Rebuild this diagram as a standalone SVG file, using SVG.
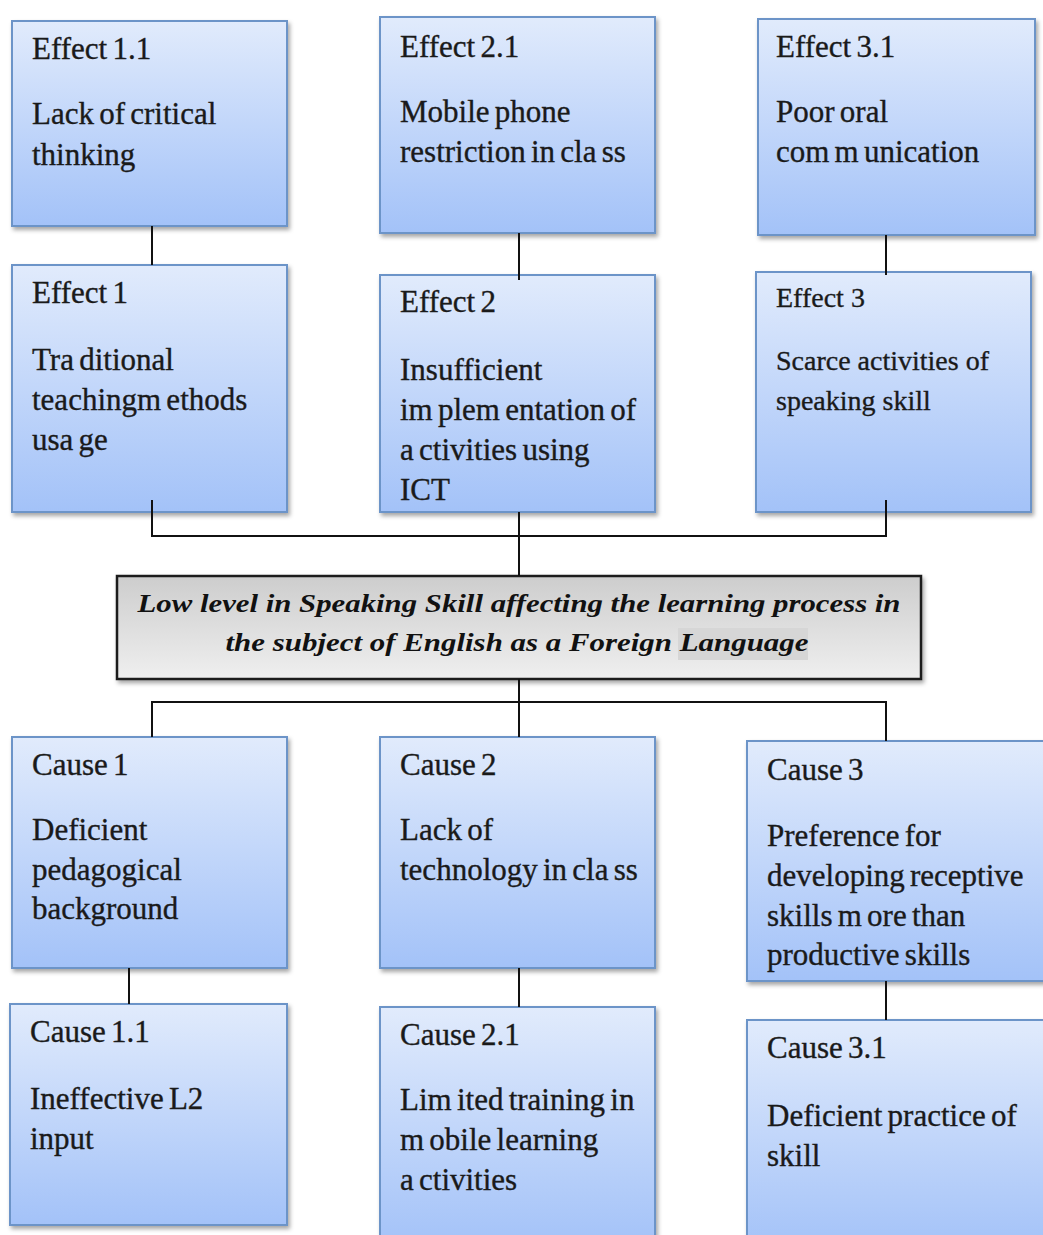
<svg xmlns="http://www.w3.org/2000/svg" width="1043" height="1235" viewBox="0 0 1043 1235">
<defs>
<linearGradient id="blue" x1="0" y1="0" x2="0" y2="1">
<stop offset="0" stop-color="#e1ebfc"/>
<stop offset="1" stop-color="#a3c2f8"/>
</linearGradient>
<linearGradient id="gray" x1="0" y1="0" x2="0" y2="1">
<stop offset="0" stop-color="#cdcdcd"/>
<stop offset="1" stop-color="#efefef"/>
</linearGradient>
<filter id="sh" x="-5%" y="-5%" width="115%" height="115%">
<feDropShadow dx="2" dy="3" stdDeviation="2" flood-color="#000" flood-opacity="0.35"/>
</filter>
</defs>
<style>
.box{fill:url(#blue);stroke:#6c94c8;stroke-width:2;filter:url(#sh)}
.main{fill:url(#gray);stroke:#1a1a1a;stroke-width:2.5;filter:url(#sh)}
.t{font-family:"Liberation Serif","Times New Roman",serif;font-size:31px;fill:#1a1a1a;stroke:#1a1a1a;stroke-width:0.35;word-spacing:-2.5px}
.s{font-size:28px;word-spacing:0}
.m{font-family:"Liberation Serif","Times New Roman",serif;font-size:26px;font-weight:bold;font-style:italic;fill:#111;text-anchor:middle}
.c{stroke:#111;stroke-width:2;fill:none}
</style>
<rect width="1043" height="1235" fill="#fff"/>

<g id="effect1-1"><rect class="box" x="12" y="21" width="275" height="205"/>
<text class="t" x="32" y="59">Effect 1.1</text>
<text class="t" x="32" y="124">Lack of critical</text>
<text class="t" x="32" y="165">thinking</text></g>

<g id="effect2-1"><rect class="box" x="380" y="17" width="275" height="216"/>
<text class="t" x="400" y="57">Effect 2.1</text>
<text class="t" x="400" y="122">Mobile phone</text>
<text class="t" x="400" y="162">restriction in cla ss</text></g>

<g id="effect3-1"><rect class="box" x="758" y="19" width="277" height="216"/>
<text class="t" x="776" y="57">Effect 3.1</text>
<text class="t" x="776" y="122">Poor oral</text>
<text class="t" x="776" y="162">com m unication</text></g>

<g id="effect1"><rect class="box" x="12" y="265" width="275" height="247"/>
<text class="t" x="32" y="303">Effect 1</text>
<text class="t" x="32" y="370">Tra ditional</text>
<text class="t" x="32" y="410">teachingm ethods</text>
<text class="t" x="32" y="450">usa ge</text></g>

<g id="effect2"><rect class="box" x="380" y="275" width="275" height="237"/>
<text class="t" x="400" y="312">Effect 2</text>
<text class="t" x="400" y="380">Insufficient</text>
<text class="t" x="400" y="420">im plem entation of</text>
<text class="t" x="400" y="460">a ctivities using</text>
<text class="t" x="400" y="500">ICT</text></g>

<g id="effect3"><rect class="box" x="756" y="272" width="275" height="240"/>
<text class="t s" x="776" y="307">Effect  3</text>
<text class="t s" x="776" y="370">Scarce activities  of</text>
<text class="t s" x="776" y="410">speaking  skill</text></g>

<g id="problem"><rect class="main" x="117" y="576" width="804" height="103"/>
<rect x="678" y="628" width="130" height="32" fill="#d6d6d6"/>
<text class="m" x="519" y="612" textLength="763" lengthAdjust="spacingAndGlyphs">Low level in Speaking Skill affecting the learning process in</text>
<text class="m" x="517" y="651" textLength="583" lengthAdjust="spacingAndGlyphs">the subject of English as a Foreign Language</text></g>

<g id="cause1"><rect class="box" x="12" y="737" width="275" height="231"/>
<text class="t" x="32" y="775">Cause 1</text>
<text class="t" x="32" y="840">Deficient</text>
<text class="t" x="32" y="880">pedagogical</text>
<text class="t" x="32" y="919">background</text></g>

<g id="cause2"><rect class="box" x="380" y="737" width="275" height="231"/>
<text class="t" x="400" y="775">Cause 2</text>
<text class="t" x="400" y="840">Lack of</text>
<text class="t" x="400" y="880">technology in cla ss</text></g>

<g id="cause3"><rect class="box" x="747" y="741" width="305" height="240"/>
<text class="t" x="767" y="780">Cause 3</text>
<text class="t" x="767" y="846">Preference for</text>
<text class="t" x="767" y="886">developing receptive</text>
<text class="t" x="767" y="926">skills  m ore than</text>
<text class="t" x="767" y="965">productive skills</text></g>

<g id="cause1-1"><rect class="box" x="10" y="1004" width="277" height="221"/>
<text class="t" x="30" y="1042">Cause 1.1</text>
<text class="t" x="30" y="1109">Ineffective L2</text>
<text class="t" x="30" y="1149">input</text></g>

<g id="cause2-1"><rect class="box" x="380" y="1007" width="275" height="240"/>
<text class="t" x="400" y="1045">Cause 2.1</text>
<text class="t" x="400" y="1110">Lim ited training in</text>
<text class="t" x="400" y="1150">m obile learning</text>
<text class="t" x="400" y="1190">a ctivities</text></g>

<g id="cause3-1"><rect class="box" x="747" y="1020" width="305" height="230"/>
<text class="t" x="767" y="1058">Cause 3.1</text>
<text class="t" x="767" y="1126">Deficient practice of</text>
<text class="t" x="767" y="1166">skill</text></g>

<g id="connectors">
<path class="c" d="M152 226V265M519 233V280M886 235V275"/>
<path class="c" d="M152 500V536H886V500M519 512V576"/>
<path class="c" d="M519 679V737M152 737V702H886V741"/>
<path class="c" d="M129 968V1004M519 968V1007M886 981V1020"/>
</g>
</svg>
